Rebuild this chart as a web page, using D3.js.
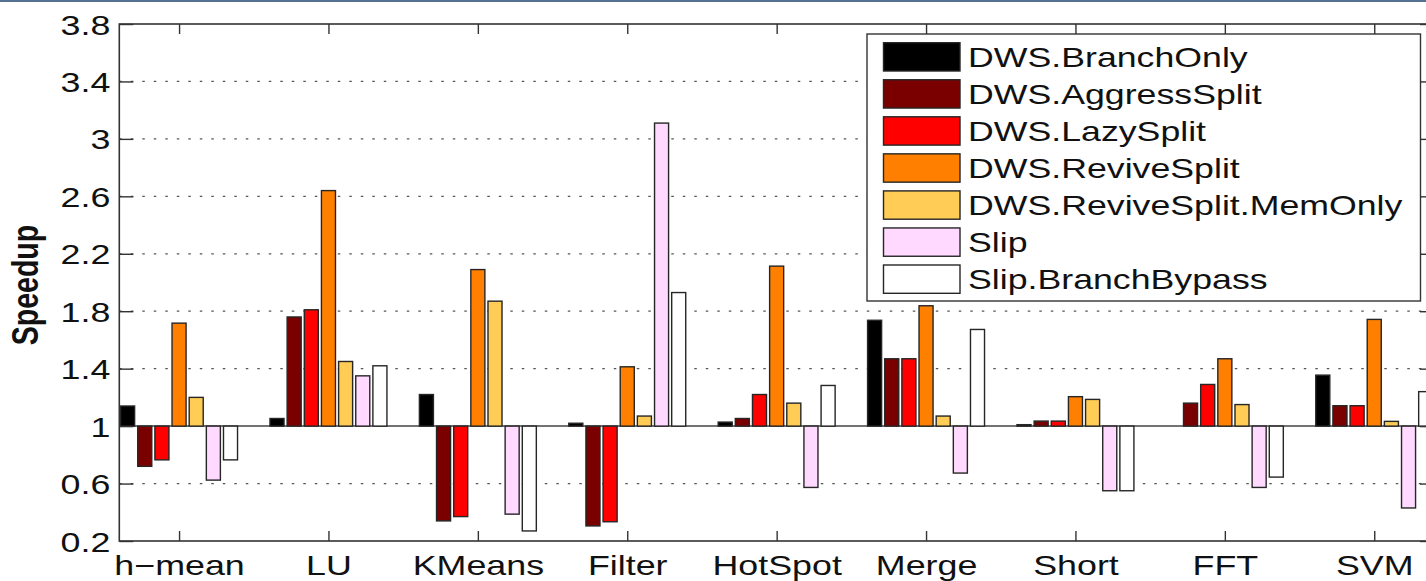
<!DOCTYPE html>
<html>
<head>
<meta charset="utf-8">
<script src="https://cdn.jsdelivr.net/npm/d3@7"></script>
<style>
  html, body { margin: 0; padding: 0; background: #fff; }
  svg { display: block; }
  text { font-family: "Liberation Sans", Arial, Helvetica, sans-serif; fill: #111; }
</style>
</head>
<body>
<svg id="chart" width="1426" height="581"></svg>
<script>
const categories = ["h\u2212mean", "LU", "KMeans", "Filter", "HotSpot", "Merge", "Short", "FFT", "SVM"];
const seriesNames = ["DWS.BranchOnly", "DWS.AggressSplit", "DWS.LazySplit", "DWS.ReviveSplit", "DWS.ReviveSplit.MemOnly", "Slip", "Slip.BranchBypass"];
const branchOnly   = [1.14, 1.053, 1.22, 1.02, 1.028, 1.737, 1.01, 1.0, 1.355];
const aggressSplit = [0.72, 1.76, 0.34, 0.305, 1.053, 1.469, 1.035, 1.16, 1.142];
const lazySplit    = [0.765, 1.81, 0.37, 0.334, 1.22, 1.469, 1.035, 1.29, 1.142];
const reviveSplit  = [1.717, 2.64, 2.09, 1.413, 2.114, 1.838, 1.205, 1.469, 1.743];
const memOnly      = [1.20, 1.45, 1.87, 1.07, 1.16, 1.07, 1.186, 1.15, 1.033];
const slip         = [0.624, 1.35, 0.387, 3.11, 0.573, 0.673, 0.55, 0.573, 0.43];
const branchBypass = [0.765, 1.42, 0.27, 1.93, 1.283, 1.673, 0.55, 0.645, 1.24];
const yTicks = [0.2, 0.6, 1, 1.4, 1.8, 2.2, 2.6, 3, 3.4, 3.8];
const colors = ["#000000", "#7a0000", "#ff0000", "#ff8000", "#ffcc55", "#ffd9ff", "#ffffff"];

const seriesValues = [branchOnly, aggressSplit, lazySplit, reviveSplit, memOnly, slip, branchBypass];

(function () {
const svg = d3.select("#chart");
const SX = 1.28; // horizontal stretch of the original picture
const SXL = 1.275; // legend text stretch
const FS = 28;

const pL = 119.3, pR = 1434, pT = 24, pB = 541;
const x = d3.scaleLinear().domain([0.6, 9.4]).range([pL, pR]);
const y = d3.scaleLinear().domain([0.2, 3.8]).range([pB, pT]);
const pitch = 0.1148, barW = 0.094;
const unit = x(1) - x(0);

svg.append("rect").attr("x", 0).attr("y", 0).attr("width", 1426).attr("height", 2).attr("fill", "#56708f");

svg.append("defs").append("clipPath").attr("id", "plotclip")
  .append("rect").attr("x", pL).attr("y", pT).attr("width", pR - pL).attr("height", pB - pT);

// gridlines
svg.append("g").selectAll("line").data(yTicks.filter(d => d !== 1 && d !== 0.2 && d !== 3.8)).join("line")
  .attr("x1", pL).attr("x2", pR)
  .attr("y1", d => y(d)).attr("y2", d => y(d))
  .attr("stroke", "#555").attr("stroke-width", 1.2).attr("stroke-dasharray", "2.5,9");

// baseline
svg.append("line").attr("x1", pL).attr("x2", pR).attr("y1", y(1)).attr("y2", y(1))
  .attr("stroke", "#444").attr("stroke-width", 1.5);

// bars
const barsG = svg.append("g").attr("clip-path", "url(#plotclip)");
seriesValues.forEach((vals, j) => {
  barsG.append("g").selectAll("rect").data(vals).join("rect")
    .attr("x", (d, i) => x(i + 1 + (j - 3) * pitch) - barW * unit / 2)
    .attr("width", barW * unit)
    .attr("y", d => Math.min(y(d), y(1)))
    .attr("height", d => Math.abs(y(d) - y(1)))
    .attr("fill", colors[j])
    .attr("stroke", "#262626").attr("stroke-width", 1.4);
});

// axes
const yAxisL = d3.axisLeft(y).tickValues(yTicks).tickFormat(d => String(d)).tickSize(-14).tickPadding(9).tickSizeOuter(0);
const gL = svg.append("g").attr("transform", `translate(${pL},0)`).call(yAxisL);
gL.select(".domain").remove();
gL.selectAll("line").attr("stroke", "#333").attr("stroke-width", 1.4);
gL.selectAll("text").attr("font-size", FS).attr("x", -9 / SX).attr("dy", "0.36em")
  .attr("transform", `scale(${SX},1)`).attr("fill", "#111");

const yAxisR = d3.axisRight(y).tickValues(yTicks).tickFormat("").tickSize(-14).tickSizeOuter(0);
const gR = svg.append("g").attr("transform", `translate(${pR},0)`).call(yAxisR);
gR.select(".domain").remove();
gR.selectAll("line").attr("stroke", "#333").attr("stroke-width", 1.4);

const xAxisB = d3.axisBottom(x).tickValues(d3.range(1, 10)).tickFormat((d, i) => categories[i]).tickSize(-10).tickPadding(14).tickSizeOuter(0);
const gB = svg.append("g").attr("transform", `translate(0,${pB})`).call(xAxisB);
gB.select(".domain").remove();
gB.selectAll("line").attr("stroke", "#333").attr("stroke-width", 1.4);
gB.selectAll("text").attr("font-size", FS).attr("transform", `scale(${SX},1)`).attr("fill", "#111");

const xAxisT = d3.axisTop(x).tickValues(d3.range(1, 10)).tickFormat("").tickSize(-10).tickSizeOuter(0);
const gT = svg.append("g").attr("transform", `translate(0,${pT})`).call(xAxisT);
gT.select(".domain").remove();
gT.selectAll("line").attr("stroke", "#333").attr("stroke-width", 1.4);

// frame
svg.append("rect").attr("x", pL).attr("y", pT).attr("width", pR - pL).attr("height", pB - pT)
  .attr("fill", "none").attr("stroke", "#333").attr("stroke-width", 1.6);

// y title
svg.append("text").text("Speedup")
  .attr("transform", `translate(38,285) scale(${SX},1) rotate(-90)`)
  .attr("text-anchor", "middle").attr("font-weight", "bold").attr("font-size", 28.5);

// legend
const lg = svg.append("g");
lg.append("rect").attr("x", 867).attr("y", 34).attr("width", 553.5).attr("height", 267)
  .attr("fill", "#fff").attr("stroke", "#333").attr("stroke-width", 1.4);
seriesNames.forEach((name, j) => {
  const ty = 42.7 + j * 37.05;
  lg.append("rect").attr("x", 883.5).attr("y", ty).attr("width", 76.5).attr("height", 28.3)
    .attr("fill", colors[j]).attr("stroke", "#262626").attr("stroke-width", 1.4);
  lg.append("text").text(name)
    .attr("transform", `translate(968,${ty + 14.15 + 10}) scale(${SXL},1)`)
    .attr("font-size", FS);
});
})();
</script>
</body>
</html>
